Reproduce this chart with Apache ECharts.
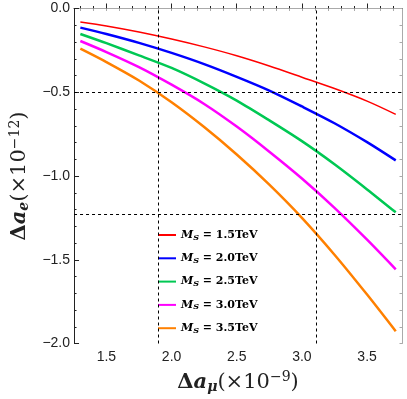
<!DOCTYPE html>
<html>
<head>
<meta charset="utf-8">
<script src="https://cdn.jsdelivr.net/npm/echarts@6/dist/echarts.min.js"></script>
<style>
  html, body { margin: 0; padding: 0; background: #fff; }
  #chart { width: 407px; height: 399px; }
</style>
</head>
<body>
<div id="chart"></div>
<script>
// x values (Δaμ, ×10^-9) shared by all curves
var xData = [1.3, 1.5, 1.75, 2.0, 2.25, 2.5, 2.75, 3.0, 3.25, 3.5, 3.72];
var msNames = ["1.5", "2.0", "2.5", "3.0", "3.5"];
var ms15 = [-0.08, -0.104, -0.14, -0.182, -0.229, -0.282, -0.343, -0.41, -0.478, -0.553, -0.632];
var ms20 = [-0.114, -0.152, -0.205, -0.265, -0.332, -0.408, -0.49, -0.585, -0.685, -0.798, -0.907];
var ms25 = [-0.152, -0.207, -0.28, -0.355, -0.447, -0.55, -0.668, -0.792, -0.93, -1.08, -1.217];
var ms30 = [-0.194, -0.26, -0.35, -0.455, -0.57, -0.705, -0.855, -1.015, -1.19, -1.38, -1.557];
var ms35 = [-0.24, -0.32, -0.43, -0.56, -0.708, -0.872, -1.052, -1.25, -1.47, -1.708, -1.927];
var colors = ["#ff0000", "#0000ff", "#00c853", "#ff00ff", "#ff8000"];
var widths = [1.5, 2.5, 2.5, 2.5, 2.5];
// dashed reference lines
var refX = [1.895, 3.11];
var refY = [-0.5, -1.23];
// tick labels
var xTicks = [1.5, 2.0, 2.5, 3.0, 3.5];
var yTicks = [0, -0.5, -1.0, -1.5, -2.0];

var xMinor = [];
for (var i = 13; i <= 37; i++) xMinor.push(i / 10);
var yMinor = [];
for (var j = 0; j <= 20; j++) yMinor.push(-j / 10);

var X_MIN = 1.2516, X_MAX = 3.768;
var serif = "'DejaVu Serif', 'Liberation Serif', serif";

var allY = [ms15, ms20, ms25, ms30, ms35];
var series = [{
  type: "line",
  data: [],
  silent: true,
  markLine: {
    silent: true,
    symbol: "none",
    label: { show: false },
    lineStyle: { type: [3, 3], color: "#000", width: 1 },
    data: refX.map(function (v) { return { xAxis: v }; })
      .concat(refY.map(function (v) { return { yAxis: v }; }))
  }
}];
allY.forEach(function (ys, k) {
  series.push({
    name: msNames[k],
    type: "line",
    smooth: 0.3,
    showSymbol: false,
    data: xData.map(function (x, i) { return [x, ys[i]]; }),
    lineStyle: { color: colors[k], width: widths[k] },
    itemStyle: { color: colors[k] }
  });
});

function fmt(v) {
  return v.toFixed(1).replace("-", "\u2212");
}

function xAxisBase(extra) {
  return Object.assign({
    type: "value", min: X_MIN, max: X_MAX,
    splitLine: { show: false }
  }, extra);
}
function yAxisBase(extra) {
  return Object.assign({
    type: "value", min: -2, max: 0,
    splitLine: { show: false }
  }, extra);
}

var nameRich = {
  d: { fontFamily: serif, fontWeight: "bold", fontSize: 21, color: "#222" },
  a: { fontFamily: serif, fontWeight: "bold", fontStyle: "italic", fontSize: 21, color: "#222" },
  sub: { fontFamily: serif, fontWeight: "bold", fontStyle: "italic", fontSize: 14, color: "#222", padding: [9, 0, 0, 0] },
  p: { fontFamily: serif, fontSize: 21, color: "#222" },
  sup: { fontFamily: serif, fontSize: 14, color: "#222", padding: [0, 0, 10, 0] }
};

var chart = echarts.init(document.getElementById("chart"));
chart.setOption({
  animation: false,
  color: colors,
  grid: { left: 67, top: 8.5, width: 335, height: 337 },
  legend: {
    data: msNames,
    orient: "vertical",
    left: 153,
    top: 223,
    itemWidth: 18,
    itemHeight: 2,
    itemGap: 9.3,
    icon: "rect",
    formatter: function (n) { return "{m|M}{s|S}{t| = " + n + "TeV}"; },
    textStyle: {
      lineHeight: 14,
      rich: {
        m: { fontFamily: serif, fontStyle: "italic", fontWeight: "bold", fontSize: 11, color: "#000" },
        s: { fontFamily: serif, fontStyle: "italic", fontWeight: "bold", fontSize: 8, color: "#000", padding: [5, 0, 0, 0] },
        t: { fontFamily: serif, fontWeight: "bold", fontSize: 11, color: "#000" }
      }
    }
  },
  xAxis: [
    xAxisBase({
      position: "bottom",
      axisLine: { lineStyle: { color: "#222", width: 1 } },
      axisTick: { inside: true, length: 5, customValues: xTicks, lineStyle: { color: "#222" } },
      axisLabel: { customValues: xTicks, formatter: fmt, fontSize: 14, color: "#222", margin: 7,
        fontFamily: "'Liberation Sans', Arial, sans-serif" },
      name: "{d|\u0394}{a|a}{sub|\u03bc}{p|(\u00d710}{sup|\u22129}{p|)}",
      nameLocation: "middle",
      nameGap: 27,
      nameTextStyle: { rich: nameRich }
    }),
    xAxisBase({
      position: "bottom",
      axisLine: { show: false },
      axisTick: { inside: true, length: 2.5, customValues: xMinor, lineStyle: { color: "#222" } },
      axisLabel: { show: false }
    }),
    xAxisBase({
      position: "top",
      axisLine: { lineStyle: { color: "#aaa" } },
      axisTick: { inside: true, length: 2.5, customValues: xMinor, lineStyle: { color: "#aaa" } },
      axisLabel: { show: false }
    })
  ],
  yAxis: [
    yAxisBase({
      position: "left",
      axisLine: { lineStyle: { color: "#222", width: 1 } },
      axisTick: { inside: true, length: 5, customValues: yTicks, lineStyle: { color: "#222" } },
      axisLabel: { customValues: yTicks, formatter: fmt, fontSize: 14, color: "#222", margin: 4,
        fontFamily: "'Liberation Sans', Arial, sans-serif" },
      name: "{d|\u0394}{a|a}{sub|e}{p|(\u00d710}{sup|\u221212}{p|)}",
      nameLocation: "middle",
      nameRotate: 90,
      nameGap: 37,
      nameTextStyle: { rich: nameRich }
    }),
    yAxisBase({
      position: "left",
      axisLine: { show: false },
      axisTick: { inside: true, length: 2.5, customValues: yMinor, lineStyle: { color: "#222" } },
      axisLabel: { show: false }
    }),
    yAxisBase({
      position: "right",
      axisLine: { lineStyle: { color: "#aaa" } },
      axisTick: { inside: true, length: 2.5, customValues: yMinor, lineStyle: { color: "#aaa" } },
      axisLabel: { show: false }
    })
  ],
  series: series
});
</script>
</body>
</html>
